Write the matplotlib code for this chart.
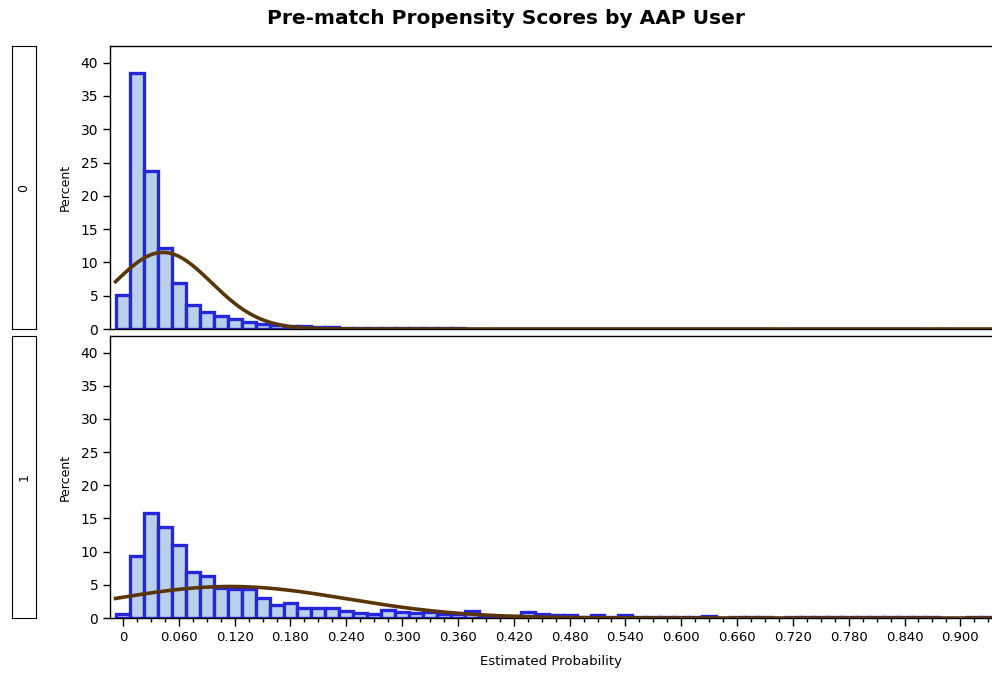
import numpy as np
import matplotlib
matplotlib.use("Agg")
import matplotlib.pyplot as plt
from matplotlib.ticker import MultipleLocator


TITLE = "Pre-match Propensity Scores by AAP User"
GROUP_LABELS = ["0", "1"]
BIN_WIDTH = 0.015
BIN_CENTERS = [round(i * BIN_WIDTH, 3) for i in range(63)]

PCT_GROUP0 = [
    5.15, 38.4, 23.7, 12.2, 6.9, 3.6, 2.5, 1.9, 1.5, 1.1,
    0.8, 0.55, 0.5, 0.4, 0.3, 0.25, 0.2, 0.18, 0.15, 0.15,
    0.15, 0.15, 0.15, 0.15, 0.15, 0.06, 0.06, 0.06, 0.06, 0.06,
    0.06, 0.06, 0.06, 0.06, 0.06, 0.06, 0.06, 0.06, 0.06, 0.06,
    0.06, 0.06, 0.06, 0.06, 0.06, 0.06, 0.06, 0.0, 0.06, 0.06,
    0.06, 0.06, 0.06, 0.06, 0.06, 0.06, 0.06, 0.06, 0.0, 0.06,
    0.0, 0.0, 0.0,
]
PCT_GROUP1 = [
    0.65, 9.4, 15.8, 13.7, 11.0, 6.9, 6.3, 4.5, 4.4, 4.3,
    3.0, 2.0, 2.3, 1.45, 1.45, 1.45, 1.0, 0.8, 0.55, 1.2,
    0.9, 0.75, 0.9, 0.65, 0.65, 1.0, 0.3, 0.2, 0.3, 0.85,
    0.65, 0.4, 0.4, 0.2, 0.45, 0.2, 0.45, 0.15, 0.15, 0.15,
    0.15, 0.15, 0.3, 0.0, 0.2, 0.2, 0.2, 0.0, 0.2, 0.2,
    0.2, 0.2, 0.2, 0.2, 0.2, 0.2, 0.2, 0.2, 0.2, 0.0,
    0.0, 0.2, 0.2,
]

# fitted normal curve parameters (mean, std) per group
NORMAL_MU = [0.043, 0.115]
NORMAL_SIGMA = [0.052, 0.126]

X_TICKS = [round(0.06 * i, 2) for i in range(16)]
X_TICK_LABELS = ["0"] + [f"{t:.3f}" for t in X_TICKS[1:]]

FILL_COLOR = "#b9cfea"
EDGE_COLOR = "#2626dc"
CURVE_COLOR = "#5a3508"

W, H = 992, 679


def fig_rect(left, top, right, bottom):
    return [left / W, 1 - bottom / H, (right - left) / W, (bottom - top) / H]


def draw_panel(ax, pct, mu, sigma, show_x):
    centers = np.array(BIN_CENTERS)
    heights = np.array(pct)
    keep = heights > 0
    ax.bar(centers[keep], heights[keep], width=BIN_WIDTH, color=FILL_COLOR,
           edgecolor=EDGE_COLOR, linewidth=2.4, zorder=2)

    xs = np.linspace(-0.008, 0.95, 600)
    pdf = np.exp(-0.5 * ((xs - mu) / sigma) ** 2) / (sigma * np.sqrt(2 * np.pi))
    ax.plot(xs, 100 * BIN_WIDTH * pdf, color=CURVE_COLOR, linewidth=2.6, zorder=3)

    ax.set_xlim(-0.014, 0.934)
    ax.set_ylim(0, 42.5)
    ax.yaxis.set_major_locator(MultipleLocator(5))
    ax.set_ylabel("Percent", fontsize=9, labelpad=6)
    ax.tick_params(axis="y", direction="out", length=5, width=1, labelsize=10)
    ax.spines["right"].set_visible(False)
    for side in ["left", "top", "bottom"]:
        ax.spines[side].set_linewidth(1.0)

    if show_x:
        ax.set_xticks(X_TICKS)
        ax.set_xticklabels(X_TICK_LABELS, fontsize=9.5)
        ax.xaxis.set_minor_locator(MultipleLocator(BIN_WIDTH))
        ax.tick_params(axis="x", which="major", direction="out", length=6, width=1)
        ax.tick_params(axis="x", which="minor", direction="out", length=3, width=1)
        ax.set_xlabel("Estimated Probability", fontsize=9.5, labelpad=8)
    else:
        ax.set_xticks([])


def draw_strip(fig, rect, label):
    sax = fig.add_axes(rect)
    sax.set_xticks([])
    sax.set_yticks([])
    sax.text(0.5, 0.5, label, rotation=90, ha="center", va="center",
             fontsize=9, transform=sax.transAxes)


def main():
    fig = plt.figure(figsize=(W / 100, H / 100), dpi=100)

    ax_top = fig.add_axes(fig_rect(110, 46, 992, 329))
    ax_bot = fig.add_axes(fig_rect(110, 336, 992, 618))

    draw_panel(ax_top, PCT_GROUP0, NORMAL_MU[0], NORMAL_SIGMA[0], show_x=False)
    draw_panel(ax_bot, PCT_GROUP1, NORMAL_MU[1], NORMAL_SIGMA[1], show_x=True)

    draw_strip(fig, fig_rect(12, 46, 36, 329), GROUP_LABELS[0])
    draw_strip(fig, fig_rect(12, 336, 36, 618), GROUP_LABELS[1])

    fig.text(506 / W, 1 - 18 / H, TITLE, ha="center", va="center",
             fontsize=14.5, fontweight="bold")

    fig.savefig("out.png", dpi=100)
    plt.close(fig)


if __name__ == "__main__":
    main()
